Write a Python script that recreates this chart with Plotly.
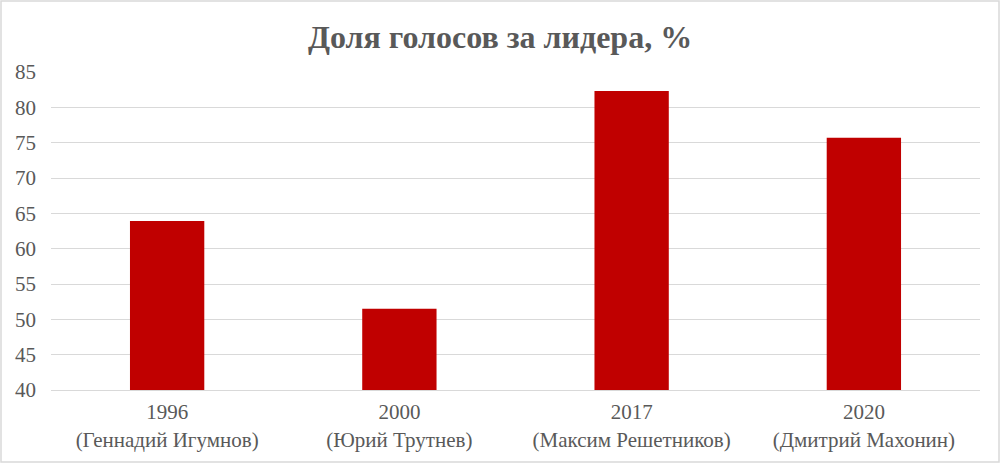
import plotly.graph_objects as go

# "Доля голосов за лидера" -- the winner's share of the vote by election
years = ["1996", "2000", "2017", "2020"]
leaders = ["Геннадий Игумнов", "Юрий Трутнев", "Максим Решетников", "Дмитрий Махонин"]
share = [63.9, 51.5, 82.3, 75.7]

labels = [f"{y}<br>({n})" for y, n in zip(years, leaders)]

W, H = 1000, 463
L, R, T, B = 51, 20, 72, 73
FONT = "Liberation Serif, Times New Roman, serif"
GREY = "#595959"

fig = go.Figure(go.Bar(x=labels, y=share, marker_color="#C00000", marker_line_width=0))

fig.update_layout(
    width=W, height=H,
    margin=dict(l=L, r=R, t=T, b=B),
    paper_bgcolor="white", plot_bgcolor="white",
    bargap=0.68, showlegend=False,
    font=dict(family=FONT, size=21, color=GREY),
    title=dict(text="<b>Доля голосов за лидера, %</b>", x=0.5, xanchor="center",
               y=1 - 37 / H, yanchor="middle", font=dict(size=32, color=GREY, family=FONT)),
)
fig.update_yaxes(range=[40, 85], dtick=5, showgrid=True, gridcolor="#D9D9D9", gridwidth=1,
                 zeroline=False, showline=False, ticks="", ticklabelstandoff=14,
                 tickfont=dict(size=21, color=GREY))
fig.update_xaxes(showline=True, linecolor="#D9D9D9", ticks="", ticklabelstandoff=3,
                 tickfont=dict(size=21, color=GREY))

# light grey frame round the whole chart
pw, ph = W - L - R, H - T - B
fig.add_shape(type="rect", xref="paper", yref="paper",
              x0=-(L - 1) / pw, x1=1 + (R - 1) / pw, y0=-(B - 1) / ph, y1=1 + (T - 1) / ph,
              line=dict(color="#D9D9D9", width=1.5), layer="below")

fig.write_html("out.html", config={"displayModeBar": False},
               post_script="document.body.style.margin='0';")
